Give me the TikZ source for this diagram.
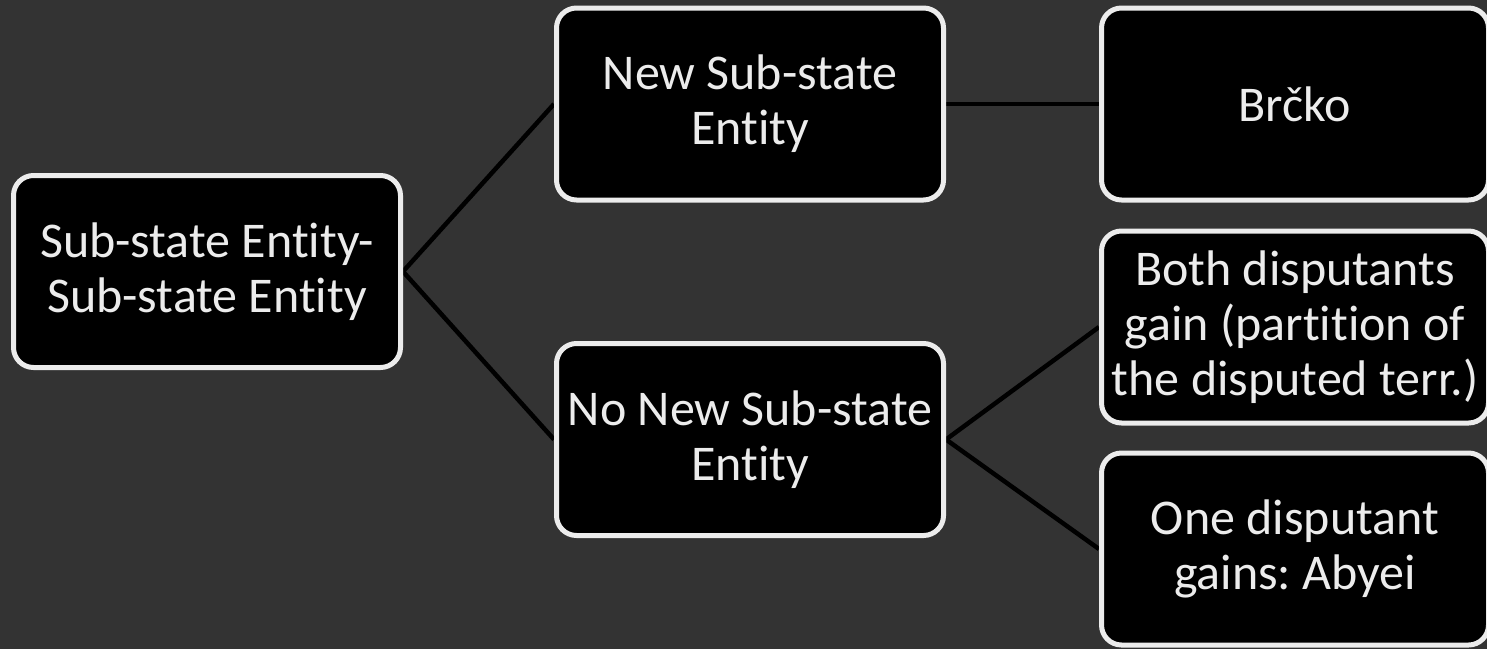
\documentclass[tikz,border=0pt]{standalone}
\usepackage{fontspec}
\setmainfont[Ligatures=NoCommon]{Carlito}
\usepackage{tikz}
\usetikzlibrary{backgrounds}
\tikzset{b/.style={draw=chalk,line width=2.5pt,fill=black,rounded corners=10pt,minimum width=193.5pt,minimum height=96pt,inner sep=0pt,align=center,text=chalk,font=\fontsize{25}{27.5}\selectfont}}
\tikzset{k/.style={black,line width=2.25pt}}
\definecolor{slate}{RGB}{51,51,51}
\definecolor{chalk}{RGB}{236,236,236}
\frenchspacing

\begin{document}
\begin{tikzpicture}[x=0.5pt,y=-0.5pt]
        \useasboundingbox (0,0) rectangle (1487,649);
        \node[b] (SS) at (207,271.5) {Sub-state Entity-\\Sub-state Entity};
        \node[b] (NS) at (750,104) {New Sub-state\\Entity};
        \node[b] (NN) at (750,439.5) {No New Sub-state\\Entity};
        \node[b] (Br) at (1295,104) {Brčko};
        \node[b] (BD) at (1295,327) {Both disputants\\gain (partition of\\the disputed terr.)};
        \node[b] (OD) at (1295,549) {One disputant\\gains: Abyei};
        \begin{scope}[on background layer]
          \fill[slate] (0,0) rectangle (1487,649);
          \draw[k] (SS.east) -- (NS.west);
          \draw[k] (SS.east) -- (NN.west);
          \draw[k] (NS.east) -- (Br.west);
          \draw[k] (NN.east) -- (BD.west);
          \draw[k] (NN.east) -- (OD.west);
        \end{scope}
      \end{tikzpicture}
\end{document}
